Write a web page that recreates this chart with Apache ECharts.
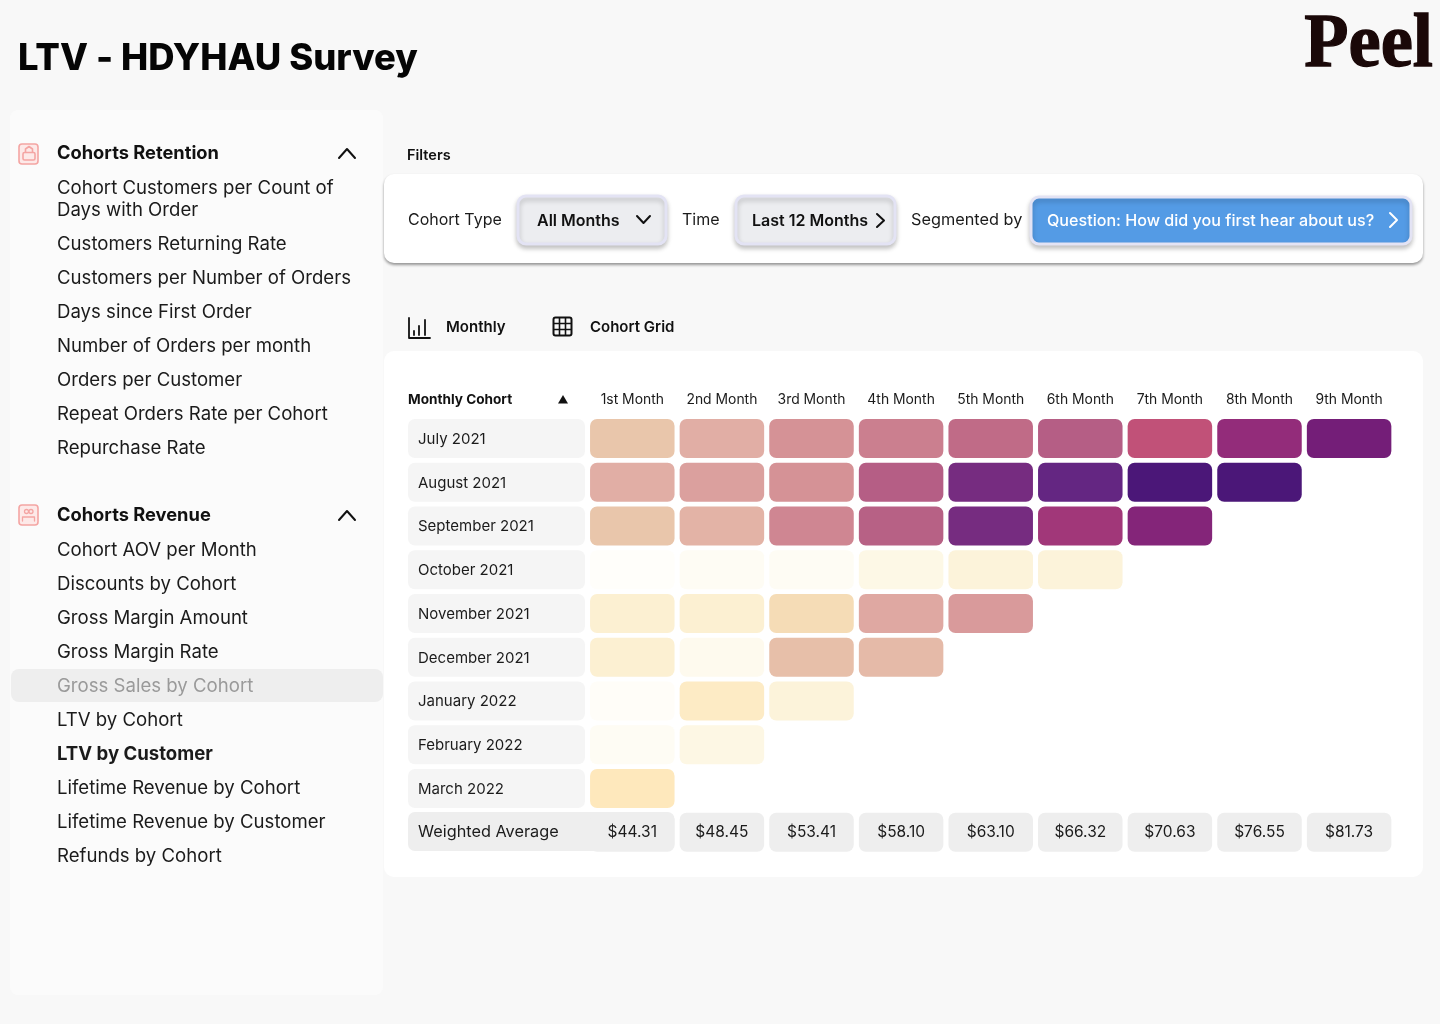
<!DOCTYPE html>
<html>
<head>
<meta charset="utf-8">
<title>LTV - HDYHAU Survey</title>
<script src="https://cdn.jsdelivr.net/npm/echarts@6/dist/echarts.min.js"></script>
<style>
    html, body { margin: 0; padding: 0; background: #f8f8f8; }
    #main { width: 1440px; height: 1024px; }
</style>
</head>
<body>
<div id="main"></div>
<script>
var monthHeaders = ['1st Month', '2nd Month', '3rd Month', '4th Month', '5th Month', '6th Month', '7th Month', '8th Month', '9th Month'];
var cohorts = ['July 2021', 'August 2021', 'September 2021', 'October 2021', 'November 2021', 'December 2021', 'January 2022', 'February 2022', 'March 2022'];
var averageLabel = 'Weighted Average';
var weightedAverages = [44.31, 48.45, 53.41, 58.10, 63.10, 66.32, 70.63, 76.55, 81.73];

// no numbers in the cells, so these are shade levels
var july2021 = [50, 60, 70, 75, 80, 90, 100, 110, 120];
var august2021 = [60, 65, 70, 90, 130, 140, 150, 150];
var september2021 = [50, 58, 73, 88, 130, 107, 115];
var october2021 = [0, 3, 3, 10, 16, 16];
var november2021 = [20, 20, 40, 62, 67];
var december2021 = [20, 6, 53, 55];
var january2022 = [1, 26, 16];
var february2022 = [3, 11];
var march2022 = [30];
var cohortRows = [july2021, august2021, september2021, october2021, november2021, december2021, january2022, february2022, march2022];

var shadeRamp = ['#fffefa', '#fdf8e6', '#fcf0d2', '#fee8bc', '#f5dcb6', '#e9c6ab', '#e1aea5', '#d59296', '#c06b87', '#b55e85', '#c15178', '#932c7a', '#741e78', '#762c80', '#642682', '#4b1778'];

var retentionItems = ['Cohort Customers per Count of\nDays with Order', 'Customers Returning Rate', 'Customers per Number of Orders', 'Days since First Order', 'Number of Orders per month', 'Orders per Customer', 'Repeat Orders Rate per Cohort', 'Repurchase Rate'];
var revenueItems = ['Cohort AOV per Month', 'Discounts by Cohort', 'Gross Margin Amount', 'Gross Margin Rate', 'Gross Sales by Cohort', 'LTV by Cohort', 'LTV by Customer', 'Lifetime Revenue by Cohort', 'Lifetime Revenue by Customer', 'Refunds by Cohort'];

var FONT = 'Inter, "Noto Sans", sans-serif';
var INK = '#1b1b1b';
var BUTTON_EDGE = { stroke: '#e3e3f4', lineWidth: 3, shadowBlur: 5, shadowColor: 'rgba(0,0,0,0.22)', shadowOffsetY: 3 };

var chart = echarts.init(document.getElementById('main'));
var graphics = [];

function addText(x, y, text, size, weight, color, align, family) {
    graphics.push({
        type: 'text', x: x, y: y, z: 5,
        style: {
            text: text, fill: color || INK, align: align || 'left', verticalAlign: 'middle',
            font: (weight || 400) + ' ' + size + 'px ' + (family || FONT), lineHeight: 22
        }
    });
}

function addBox(x, y, w, h, r, fill, extra) {
    var style = { fill: fill };
    for (var k in extra) { style[k] = extra[k]; }
    graphics.push({ type: 'rect', z: 1, shape: { x: x, y: y, width: w, height: h, r: r }, style: style });
}

function addLine(points, color, width) {
    graphics.push({
        type: 'polyline', z: 5,
        shape: { points: points },
        style: { stroke: color, lineWidth: width || 2, fill: null, lineCap: 'round', lineJoin: 'round' }
    });
}

// page chrome
addText(18, 59, 'LTV - HDYHAU Survey', 36.4, 800, '#050505');
graphics.push({
    type: 'text', x: 1433, y: 46, z: 5, scaleY: 1.06,
    style: { text: 'Peel', fill: '#1a0808', stroke: '#1a0808', lineWidth: 1.2, align: 'right', verticalAlign: 'middle', font: '700 72.5px "Liberation Serif", serif' }
});
addBox(10, 110, 373, 885, 8, '#fbfbfb');

// sidebar
var ICON = '#f4a5a3';
function addNavGroup(title, items, startY, drawIcon) {
    drawIcon();
    addText(57, startY + 1, title, 18.3, 700, '#111');
    addLine([[339, startY + 5], [347, startY - 4], [355, startY + 5]], '#111', 2);
    var y = startY + 34;
    items.forEach(function (item) {
        var lines = item.split('\n').length;
        var selected = item === 'Gross Sales by Cohort';
        if (selected) {
            addBox(11, y - 16, 372, 33, 8, '#eeeeee');
        }
        addText(57, y + 1 + (lines - 1) * 11, item, 18.6, item === 'LTV by Customer' ? 700 : 400, selected ? '#9a9a9a' : INK);
        y += 34 + (lines - 1) * 22;
    });
}

addNavGroup('Cohorts Retention', retentionItems, 153, function () {
    graphics.push({ type: 'rect', z: 5, shape: { x: 19, y: 144, width: 19, height: 20, r: 3 }, style: { fill: '#fde9e8', stroke: ICON, lineWidth: 1.6 } });
    graphics.push({ type: 'rect', z: 5, shape: { x: 23, y: 152.5, width: 12, height: 7.5, r: 1.5 }, style: { fill: null, stroke: ICON, lineWidth: 1.6 } });
    addLine([[25.5, 152], [25.5, 149], [29, 146.5], [32.5, 149], [32.5, 152]], ICON, 1.6);
});
addNavGroup('Cohorts Revenue', revenueItems, 515, function () {
    graphics.push({ type: 'rect', z: 5, shape: { x: 19, y: 505, width: 19, height: 20, r: 3 }, style: { fill: '#fde9e8', stroke: ICON, lineWidth: 1.6 } });
    graphics.push({ type: 'circle', z: 5, shape: { cx: 26.5, cy: 511.5, r: 2 }, style: { fill: null, stroke: ICON, lineWidth: 1.3 } });
    graphics.push({ type: 'circle', z: 5, shape: { cx: 31, cy: 511.5, r: 2 }, style: { fill: null, stroke: ICON, lineWidth: 1.3 } });
    addLine([[22.5, 521], [22.5, 517], [34.5, 517], [34.5, 521]], ICON, 1.3);
});

// filters card
addText(407, 156, 'Filters', 14.5, 600, '#111');
addBox(384, 174, 1039, 89, 10, '#ffffff', { shadowBlur: 3, shadowColor: 'rgba(0,0,0,0.4)', shadowOffsetY: 2 });
addText(408, 220, 'Cohort Type', 16, 400, INK);
addBox(518, 196, 148, 48, 8, '#ecedf0', BUTTON_EDGE);
addText(537, 221, 'All Months', 16, 600, '#111');
addLine([[637, 216], [643.5, 223], [650, 216]], '#111', 2);
addText(682, 220, 'Time', 16, 400, INK);
addBox(736, 196, 159, 48, 8, '#ecedf0', BUTTON_EDGE);
addText(752, 221, 'Last 12 Months', 16, 600, '#111');
addLine([[877, 214], [884, 220.5], [877, 227]], '#111', 2);
addText(911, 220, 'Segmented by', 16.3, 400, INK);
addBox(1031, 197, 380, 47, 8, '#549be5', BUTTON_EDGE);
addText(1047, 221, 'Question: How did you first hear about us?', 16.1, 500, '#ffffff');
addLine([[1390, 213], [1397, 220], [1390, 227]], '#ffffff', 2);

// view tabs
addLine([[409, 318], [409, 338], [430, 338]], '#111', 1.8);
addLine([[414, 335], [414, 331]], '#111', 1.8);
addLine([[419, 335], [419, 326]], '#111', 1.8);
addLine([[425, 335], [425, 320]], '#111', 1.8);
addText(446, 327, 'Monthly', 15, 600, '#111');
graphics.push({ type: 'rect', z: 5, shape: { x: 553.5, y: 317.5, width: 18, height: 18, r: 2 }, style: { fill: null, stroke: '#111', lineWidth: 2 } });
addLine([[559.5, 318], [559.5, 335]], '#111', 1.6);
addLine([[565.5, 318], [565.5, 335]], '#111', 1.6);
addLine([[554, 323.5], [571, 323.5]], '#111', 1.6);
addLine([[554, 329.5], [571, 329.5]], '#111', 1.6);
addText(590, 327, 'Cohort Grid', 15, 600, '#111');

// table card
addBox(384, 351, 1039, 526, 10, '#ffffff');
addText(408, 400, 'Monthly Cohort', 13.6, 700, '#111');
graphics.push({
    type: 'polygon', z: 5,
    shape: { points: [[558, 403.5], [568, 403.5], [563, 395]] },
    style: { fill: '#111' }
});
// left part of the average row runs under the first cell
addBox(408, 812, 266.5, 39, 7, '#eeeeee');

var cellData = [];
cohortRows.forEach(function (row, r) {
    row.forEach(function (v, c) {
        cellData.push([c, r, v]);
    });
});
var averageData = weightedAverages.map(function (v, c) {
    return [c, cohorts.length, v];
});

function cellRect(api) {
    var p = api.coord([api.value(0), api.value(1)]);
    var s = api.size([1, 1]);
    var w = s[0] - 5.1;
    var h = s[1] - 4.75;
    return { x: p[0] - w / 2, y: p[1] - h / 2, width: w, height: h, r: 7 };
}

var option = {
    animation: false,
    backgroundColor: '#f8f8f8',
    grid: { left: 587.5, top: 416.6, width: 806.4, height: 437.5 },
    xAxis: {
        type: 'category',
        position: 'top',
        z: 4,
        data: monthHeaders,
        axisLine: { show: false },
        axisTick: { show: false },
        splitLine: { show: false },
        axisLabel: { interval: 0, color: INK, fontFamily: FONT, fontSize: 13.9, margin: 10 }
    },
    yAxis: {
        type: 'category',
        inverse: true,
        z: 4,
        data: cohorts.concat([averageLabel]),
        axisLine: { show: false },
        axisTick: { show: false },
        splitLine: { show: false },
        axisLabel: {
            interval: 0,
            margin: 179.5,
            align: 'left',
            fontFamily: FONT,
            fontSize: 15,
            color: INK,
            formatter: function (value) {
                return value === averageLabel ? '{avg|' + value + '}' : '{row|' + value + '}';
            },
            rich: {
                row: { width: 167, height: 37, lineHeight: 37, backgroundColor: '#f5f5f5', borderRadius: 7, padding: [2, 0, 0, 10], fontFamily: FONT, fontSize: 15, color: INK },
                avg: { width: 167, height: 39, lineHeight: 39, padding: [0, 0, 0, 10], fontFamily: FONT, fontSize: 16.3, color: INK }
            }
        }
    },
    visualMap: {
        show: false,
        seriesIndex: 0,
        dimension: 2,
        min: 0,
        max: 150,
        inRange: { color: shadeRamp }
    },
    graphic: graphics,
    series: [{
        type: 'custom',
        z: 3,
        encode: { x: 0, y: 1 },
        data: cellData,
        renderItem: function (params, api) {
            return { type: 'rect', shape: cellRect(api), style: { fill: api.visual('color') } };
        }
    }, {
        type: 'custom',
        z: 3,
        encode: { x: 0, y: 1 },
        data: averageData,
        renderItem: function (params, api) {
            var rect = cellRect(api);
            return {
                type: 'group',
                children: [{
                    type: 'rect', shape: rect, style: { fill: '#eeeeee' }
                }, {
                    type: 'text',
                    style: {
                        x: rect.x + rect.width / 2, y: rect.y + rect.height / 2,
                        text: '$' + api.value(2).toFixed(2),
                        align: 'center', verticalAlign: 'middle',
                        fill: INK, font: '400 15.5px ' + FONT
                    }
                }]
            };
        }
    }]
};
chart.setOption(option);

window.addEventListener('resize', function () {
    chart.resize();
});
</script>
</body>
</html>
